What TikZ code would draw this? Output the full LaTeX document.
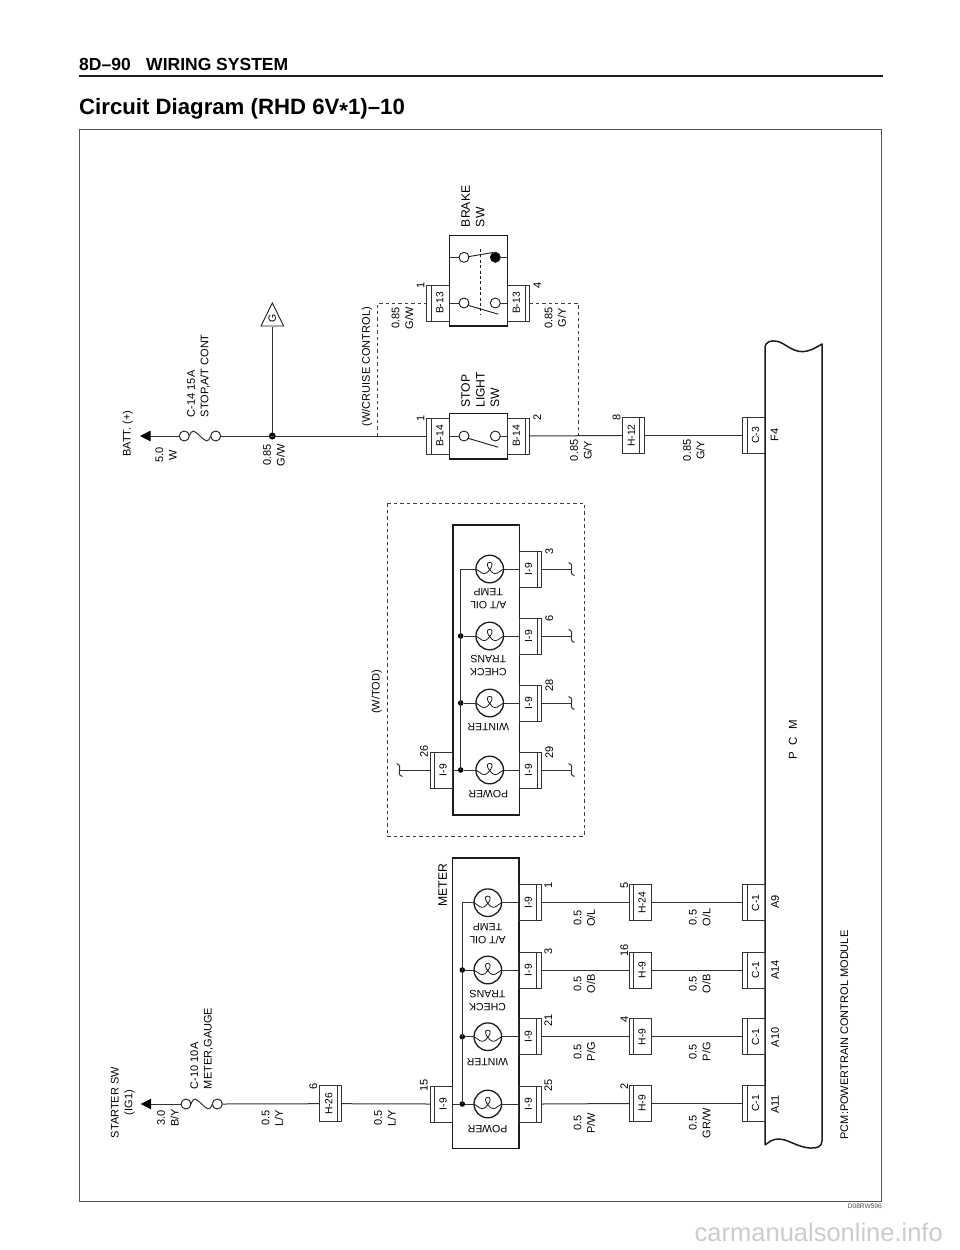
\documentclass[tikz,border=0pt]{standalone}
\usepackage{fontspec}
\setmainfont{Liberation Sans}
\usetikzlibrary{arrows.meta}
\definecolor{ink}{HTML}{1c1c1c}
\tikzset{
  wire/.style={line width=1pt,draw=ink!90},
  dashw/.style={line width=1pt,draw=ink!85,dash pattern=on 3.4pt off 3pt},
  txt/.style={font=\fontsize{11}{13.6}\selectfont,text=black,inner sep=0pt,outer sep=0pt,align=center},
  rtxt/.style={txt,rotate=90},
  rwest/.style={txt,rotate=90,anchor=west,align=left},
  bigw/.style={rwest,font=\fontsize{12.2}{14.6}\selectfont},
  udtxt/.style={txt,rotate=180,font=\fontsize{10.5}{13.4}\selectfont},
  connbox/.style={draw=ink!90,line width=1pt,minimum width=22.3pt,minimum height=36pt,inner sep=0pt,outer sep=0pt},
  connlab/.style={txt,rotate=90,font=\fontsize{10.3}{12}\selectfont},
  unit/.style={draw=ink,line width=1.6pt,inner sep=0pt,outer sep=0pt},
  bulb/.style={circle,draw=ink,line width=1.3pt,minimum size=27.6pt,inner sep=0pt,outer sep=0pt},
  contact/.style={circle,draw=ink,fill=white,line width=0.9pt,minimum size=10pt,inner sep=0pt,outer sep=0pt},
  blackcontact/.style={contact,fill=black},
  jdot/.style={circle,fill=black,minimum size=#1,inner sep=0pt,outer sep=0pt},
  jdot/.default=5.6pt,
  feedtip/.style={-{Triangle[length=10.5pt,width=10.5pt,fill=black,color=black]}}
}
% connector: name, cx, cy, side of inner line (+1 right, -1 left), text
\newcommand\cnn[5]{%
  \node[connbox] (#1) at (#2,#3) {};
  \draw[line width=0.9pt,draw=ink!90] ([xshift=#4*6.75pt,yshift=18pt]#1.center) -- ([xshift=#4*6.75pt,yshift=-18pt]#1.center);
  \node[connlab] (#1t) at ([xshift=-#4*1.8pt]#1.center) {#5};
}
\newcommand\wl[4]{\node[rtxt] (#1) at (#2,#3) {#4};}
% bulb with filament
\newcommand\bulbx[3]{%
  \node[bulb] (#1) at (#2,#3) {};
  \draw[line width=0.8pt,draw=ink,shift={(#1.center)}] (-13.8,0) .. controls (-10,1) and (-9.5,4.6) .. (-5.5,4.6) .. controls (-1,4.6) and (6,-6.6) .. (0,-6.6) .. controls (-6,-6.6) and (1,4.6) .. (5.5,4.6) .. controls (9.5,4.6) and (10,1) .. (13.8,0);
}
\newcommand\squig[1]{\draw[wire] (#1) ++(-3,-6.5) .. controls +(8,2.5) and +(-8,-2.5) .. ++(6,13);}
\newcommand\fusew[2]{%
  \path (#1) -- (#2) coordinate[midway] (#1m);
  \draw[wire] (#1.east) .. controls +(3,-7.5) and +(-6,-5.5) .. (#1m) .. controls +(6,5.5) and +(-3,7.5) .. (#2.west);
}
\begin{document}
\begin{tikzpicture}[x=1pt,y=-1pt]
\useasboundingbox (0,0) rectangle (960,1250);
\fill[white] (0,0) rectangle (960,1250);

% header
\node[anchor=base west,inner sep=0pt,text=black,font=\fontsize{17.5}{20}\selectfont\bfseries] (hdr) at (79,70.6) {8D–90\hspace{15.5pt}WIRING SYSTEM};
\draw[line width=2pt,draw=ink] (79,75.5) -- (883,75.5);
\node[anchor=base west,inner sep=0pt,text=black,font=\fontsize{22.2}{26}\selectfont\bfseries] (ttl) at (79,114) {Circuit Diagram (RHD 6V\raisebox{-0.22em}{*}1)–10};
\draw[line width=1pt,draw=ink!75] (79.5,129.5) rectangle (881,1201);

% ---------------- upper circuit
\coordinate (tipA) at (140,436);
\node[contact] (fa1) at (184.3,436) {};
\node[contact] (fa2) at (215.7,436) {};
\fusew{fa1}{fa2}
\draw[wire,feedtip] (fa1.west) -- (tipA);
\node[jdot=7pt] (ja) at (272.3,436) {};
\node[inner sep=0pt] (gt) at (272.3,326) {};
\draw[line width=0.9pt,draw=ink] (261,326) -- (272.3,303) -- (283.7,326) -- cycle;
\node[rtxt,font=\fontsize{10.5}{12}\selectfont] (glab) at (272.3,318.5) {G};
\draw[wire] (ja) -- (gt);

\node[unit,minimum width=58pt,minimum height=45.4pt] (stopsw) at (478.3,436) {};
\node[unit,minimum width=58pt,minimum height=90.3pt] (brakesw) at (478.3,280.8) {};
\cnn{bla}{438}{436}{-1}{B-14}
\cnn{blb}{518.2}{436}{1}{B-14}
\cnn{bra}{438}{303}{-1}{B-13}
\cnn{brb}{518.2}{303}{1}{B-13}
\draw[wire] (fa2.east) -- (bla.west);

% stop switch internals
\node[contact] (sa) at (464,436) {};
\node[contact] (sb) at (495.3,436) {};
\draw[wire] (stopsw.west) -- (sa.west);
\draw[wire] (sb.east) -- (stopsw.east);
\draw[line width=0.9pt,draw=ink] (sa.center) ++(3.8,2.2) -- (498.2,447.2);
% brake switch internals
\coordinate (bsl) at (449.3,303);
\coordinate (bsr) at (507.3,303);
\coordinate (bul) at (449.3,257.3);
\coordinate (bur) at (507.3,257.3);
\node[contact] (ba) at (464,303) {};
\node[contact] (bb) at (495.3,303) {};
\node[contact] (bc) at (464,257.3) {};
\node[blackcontact] (bd) at (495.3,257.3) {};
\draw[wire] (bsl) -- (ba.west);
\draw[wire] (bb.east) -- (bsr);
\draw[wire] (bul) -- (bc.west);
\draw[wire] (bd.east) -- (bur);
\draw[line width=0.9pt,draw=ink] (ba.center) ++(3.8,2.2) -- (498.2,314.2);
\draw[line width=0.9pt,draw=ink] (bc.center) ++(4.2,-0.6) -- (493,252.5);
\draw[line width=0.9pt,draw=ink,dash pattern=on 3pt off 2.4pt] (480,249) -- (480,314);

% dashed cruise branch
\coordinate (dsh1) at (377.7,436);
\coordinate (dsh2) at (578.3,436);
\draw[dashw] (dsh1) |- (bra.west);
\draw[dashw] (brb.east) -| (dsh2);

% H-12, C-3
\cnn{h12}{633.15}{435.5}{1}{H-12}
\cnn{c3}{753.85}{435.5}{-1}{C-3}
\draw[wire] (blb.east) -- (h12.west);
\draw[wire] (h12.east) -- (c3.west);

% labels upper
\wl{tbatt}{127.7}{433.7}{BATT. (+)}
\wl{t50}{166}{455}{5.0\\W}
\node[rwest] (tc14) at (198.5,417) {C-14 15A\\STOP,A/T CONT};
\wl{t085a}{274}{455}{0.85\\G/W}
\wl{tcruise}{367}{366.7}{(W/CRUISE CONTROL)}
\wl{t085b}{402.5}{318}{0.85\\G/W}
\wl{tn1a}{420.7}{285}{1}
\wl{tn4}{537.3}{285}{4}
\wl{tn1b}{420.7}{418}{1}
\wl{tn2}{537.3}{417.7}{2}
\wl{t085c}{555.3}{318}{0.85\\G/Y}
\wl{t085d}{581}{450.3}{0.85\\G/Y}
\wl{tn8}{616.7}{417}{8}
\wl{t085e}{693.8}{450.3}{0.85\\G/Y}
\wl{tf4}{774.5}{435}{F4}
\node[bigw] (tbrake) at (473,227) {BRAKE\\SW};
\node[bigw] (tstop) at (480.3,407.7) {STOP\\LIGHT\\SW};

% PCM outline
\draw[line width=1.5pt,draw=ink,line join=round]
  (765,1145) -- (765,348) .. controls (765,341) and (772,340) .. (778,341.5)
  .. controls (786,344) and (792,351.5) .. (802,351.6)
  .. controls (810,351.6) and (816,347.5) .. (822,344)
  -- (822,1141) .. controls (822,1147) and (816,1148.5) .. (810,1148)
  .. controls (796,1147) and (789,1139) .. (778,1139)
  .. controls (773,1139) and (769,1142) .. (765,1145);
\node[rtxt,font=\fontsize{11.5}{13}\selectfont] (tpcm) at (793,740) {P\hspace{7pt}C\hspace{7pt}M};
\wl{tpcml}{844.3}{1035}{PCM:POWERTRAIN CONTROL MODULE}

% ---------------- W/TOD bulb group
\draw[dashw] (387,503.3) rectangle (584.3,836);
\wl{ttod}{376.7}{692}{(W/TOD)}
\node[unit,minimum width=66.6pt,minimum height=290.3pt] (tod) at (486,669.85) {};
\bulbx{tb1}{489.7}{569}
\bulbx{tb2}{489.7}{636}
\bulbx{tb3}{489.7}{703}
\bulbx{tb4}{489.7}{770}
\cnn{tc1}{530.3}{569}{1}{I-9}
\cnn{tc2}{530.3}{636}{1}{I-9}
\cnn{tc3}{530.3}{703}{1}{I-9}
\cnn{tc4}{530.3}{770}{1}{I-9}
\cnn{tc5}{441.3}{770}{-1}{I-9}
\node[jdot] (td2) at (460.7,636) {};
\node[jdot] (td3) at (460.7,703) {};
\node[jdot] (td4) at (460.7,770) {};
\draw[wire] (tb1.west) -| (td4.center);
\draw[wire] (tb2.west) -- (td2);
\draw[wire] (tb3.west) -- (td3);
\draw[wire] (tb4.west) -- (td4);
\draw[wire] (tc5.east) -- (td4);
\draw[wire] (tb1.east) -- (tc1.west);
\draw[wire] (tb2.east) -- (tc2.west);
\draw[wire] (tb3.east) -- (tc3.west);
\draw[wire] (tb4.east) -- (tc4.west);
\coordinate (q1) at (571.5,569);
\coordinate (q2) at (571.5,636);
\coordinate (q3) at (571.5,703);
\coordinate (q4) at (571.5,770);
\coordinate (q5) at (399.5,770);
\draw[wire] (tc1.east) -- (q1); \squig{q1}
\draw[wire] (tc2.east) -- (q2); \squig{q2}
\draw[wire] (tc3.east) -- (q3); \squig{q3}
\draw[wire] (tc4.east) -- (q4); \squig{q4}
\draw[wire] (tc5.west) -- (q5); \squig{q5}
\node[udtxt] (tx1) at (488.3,599) {A/T OIL\\TEMP};
\node[udtxt] (tx2) at (488.3,665.7) {CHECK\\TRANS};
\node[udtxt] (tx3) at (488.3,727.3) {WINTER};
\node[udtxt] (tx4) at (488.3,794) {POWER};
\wl{tq3}{549.3}{551}{3}
\wl{tq6}{549.3}{618.3}{6}
\wl{tq28}{549.3}{685}{28}
\wl{tq29}{549.3}{752.3}{29}
\wl{tq26}{424}{751.7}{26}

% ---------------- METER group
\node[unit,minimum width=66.4pt,minimum height=290.3pt] (meter) at (485.5,1003.15) {};
\bulbx{mb1}{487.8}{902.7}
\bulbx{mb2}{487.8}{970}
\bulbx{mb3}{487.8}{1036.7}
\bulbx{mb4}{487.8}{1104}
\cnn{mc1}{530}{902.7}{1}{I-9}
\cnn{mc2}{530}{970}{1}{I-9}
\cnn{mc3}{530}{1036.7}{1}{I-9}
\cnn{mc4}{530}{1104}{1}{I-9}
\cnn{mc5}{441.15}{1104}{-1}{I-9}
\node[jdot] (md2) at (462.3,970) {};
\node[jdot] (md3) at (462.3,1036.7) {};
\node[jdot] (md4) at (462.3,1104) {};
\draw[wire] (mb1.west) -| (md4.center);
\draw[wire] (mb2.west) -- (md2);
\draw[wire] (mb3.west) -- (md3);
\draw[wire] (mb4.west) -- (md4);
\draw[wire] (mc5.east) -- (md4);
\draw[wire] (mb1.east) -- (mc1.west);
\draw[wire] (mb2.east) -- (mc2.west);
\draw[wire] (mb3.east) -- (mc3.west);
\draw[wire] (mb4.east) -- (mc4.west);
\node[udtxt] (mx1) at (487.5,934) {A/T OIL\\TEMP};
\node[udtxt] (mx2) at (487.5,1000.5) {CHECK\\TRANS};
\node[udtxt] (mx3) at (487.5,1062.3) {WINTER};
\node[udtxt] (mx4) at (487.5,1129.3) {POWER};
\node[rtxt,font=\fontsize{12.2}{14}\selectfont] (tmeter) at (442.7,885) {METER};

\cnn{ha}{640.15}{902.7}{-1}{H-24}
\cnn{hb}{640.15}{970}{-1}{H-9}
\cnn{hc}{640.15}{1036.7}{-1}{H-9}
\cnn{hd}{640.15}{1103.5}{-1}{H-9}
\cnn{ca}{753.85}{902.7}{-1}{C-1}
\cnn{cb}{753.85}{970}{-1}{C-1}
\cnn{cc}{753.85}{1036.7}{-1}{C-1}
\cnn{cd}{753.85}{1103.5}{-1}{C-1}
\draw[wire] (mc1.east) -- (ha.west);
\draw[wire] (mc2.east) -- (hb.west);
\draw[wire] (mc3.east) -- (hc.west);
\draw[wire] (mc4.east) -- (hd.west);
\draw[wire] (ha.east) -- (ca.west);
\draw[wire] (hb.east) -- (cb.west);
\draw[wire] (hc.east) -- (cc.west);
\draw[wire] (hd.east) -- (cd.west);

% ---------------- lower left feed
\coordinate (tipB) at (140.7,1104);
\node[contact] (fb1) at (186,1104) {};
\node[contact] (fb2) at (217.3,1104) {};
\fusew{fb1}{fb2}
\draw[wire,feedtip] (fb1.west) -- (tipB);
\cnn{h26}{330.5}{1103.7}{1}{H-26}
\draw[wire] (fb2.east) -- (h26.west);
\draw[wire] (h26.east) -- (mc5.west);

\wl{tstart}{122.8}{1102.6}{STARTER SW\\(IG1)}
\wl{t30}{168}{1118}{3.0\\B/Y}
\node[rwest] (tc10) at (201.7,1089) {C-10 10A\\METER,GAUGE};
\wl{tla}{272.3}{1118}{0.5\\L/Y}
\wl{tlb}{385}{1118}{0.5\\L/Y}
\wl{tn6}{313.3}{1086}{6}
\wl{tn15}{424}{1085}{15}
\wl{tm1}{548.3}{885}{1}
\wl{tm3}{548.3}{951.7}{3}
\wl{tm21}{548.3}{1020}{21}
\wl{tm25}{548.3}{1085.7}{25}
\wl{ta1}{584.3}{918}{0.5\\O/L}
\wl{ta2}{584.3}{984}{0.5\\O/B}
\wl{ta3}{584.3}{1051.7}{0.5\\P/G}
\wl{ta4}{584.3}{1123}{0.5\\P/W}
\wl{tb5}{624.3}{885}{5}
\wl{tb16}{624.3}{950.5}{16}
\wl{tb44}{624.3}{1019}{4}
\wl{tb22}{624.3}{1086.7}{2}
\wl{tc1a}{699.7}{917.5}{0.5\\O/L}
\wl{tc2a}{699.7}{984}{0.5\\O/B}
\wl{tc3a}{699.7}{1051.7}{0.5\\P/G}
\wl{tc4a}{699.7}{1123.3}{0.5\\GR/W}
\wl{pa}{775}{901.7}{A9}
\wl{pb}{775}{970}{A14}
\wl{pc}{775}{1037.3}{A10}
\wl{pd}{775}{1104.3}{A11}

% footer
\node[anchor=base east,inner sep=0pt,text=ink!80,font=\fontsize{6.6}{8}\selectfont] (tcode) at (882,1208.3) {D08RW596};
\node[anchor=base east,inner sep=0pt,text=black!20,font=\fontsize{25.5}{30}\selectfont] (twm) at (943,1241.7) {carmanualsonline.info};
\end{tikzpicture}
\end{document}
